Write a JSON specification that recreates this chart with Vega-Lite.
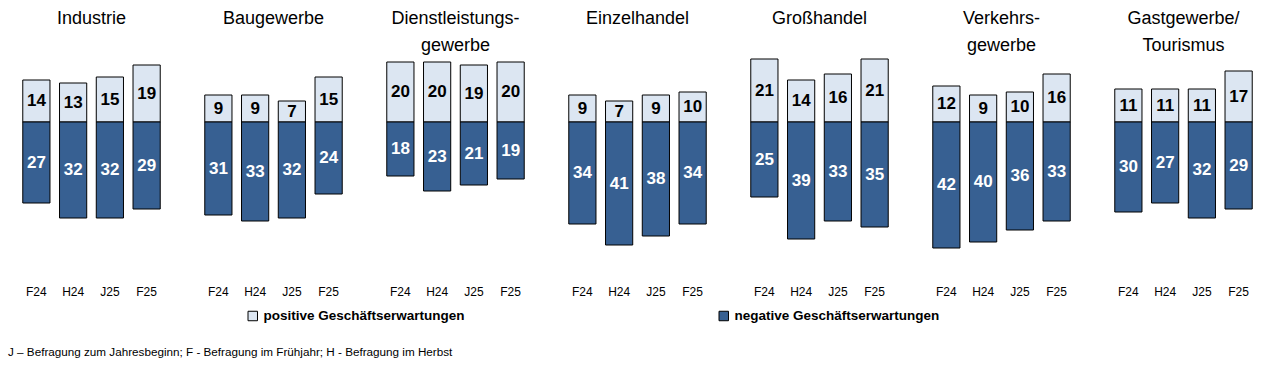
{
  "$schema": "https://vega.github.io/schema/vega-lite/v6.json",
  "padding": {"left": 8, "top": 10, "right": 5, "bottom": 5},
  "background": "white",
  "data": {"values": [
    {"sector": "Industrie| ", "period": "F24", "type": "positive Geschäftserwartungen", "value": 14},
    {"sector": "Industrie| ", "period": "F24", "type": "negative Geschäftserwartungen", "value": -27},
    {"sector": "Industrie| ", "period": "H24", "type": "positive Geschäftserwartungen", "value": 13},
    {"sector": "Industrie| ", "period": "H24", "type": "negative Geschäftserwartungen", "value": -32},
    {"sector": "Industrie| ", "period": "J25", "type": "positive Geschäftserwartungen", "value": 15},
    {"sector": "Industrie| ", "period": "J25", "type": "negative Geschäftserwartungen", "value": -32},
    {"sector": "Industrie| ", "period": "F25", "type": "positive Geschäftserwartungen", "value": 19},
    {"sector": "Industrie| ", "period": "F25", "type": "negative Geschäftserwartungen", "value": -29},
    {"sector": "Baugewerbe| ", "period": "F24", "type": "positive Geschäftserwartungen", "value": 9},
    {"sector": "Baugewerbe| ", "period": "F24", "type": "negative Geschäftserwartungen", "value": -31},
    {"sector": "Baugewerbe| ", "period": "H24", "type": "positive Geschäftserwartungen", "value": 9},
    {"sector": "Baugewerbe| ", "period": "H24", "type": "negative Geschäftserwartungen", "value": -33},
    {"sector": "Baugewerbe| ", "period": "J25", "type": "positive Geschäftserwartungen", "value": 7},
    {"sector": "Baugewerbe| ", "period": "J25", "type": "negative Geschäftserwartungen", "value": -32},
    {"sector": "Baugewerbe| ", "period": "F25", "type": "positive Geschäftserwartungen", "value": 15},
    {"sector": "Baugewerbe| ", "period": "F25", "type": "negative Geschäftserwartungen", "value": -24},
    {"sector": "Dienstleistungs-|gewerbe", "period": "F24", "type": "positive Geschäftserwartungen", "value": 20},
    {"sector": "Dienstleistungs-|gewerbe", "period": "F24", "type": "negative Geschäftserwartungen", "value": -18},
    {"sector": "Dienstleistungs-|gewerbe", "period": "H24", "type": "positive Geschäftserwartungen", "value": 20},
    {"sector": "Dienstleistungs-|gewerbe", "period": "H24", "type": "negative Geschäftserwartungen", "value": -23},
    {"sector": "Dienstleistungs-|gewerbe", "period": "J25", "type": "positive Geschäftserwartungen", "value": 19},
    {"sector": "Dienstleistungs-|gewerbe", "period": "J25", "type": "negative Geschäftserwartungen", "value": -21},
    {"sector": "Dienstleistungs-|gewerbe", "period": "F25", "type": "positive Geschäftserwartungen", "value": 20},
    {"sector": "Dienstleistungs-|gewerbe", "period": "F25", "type": "negative Geschäftserwartungen", "value": -19},
    {"sector": "Einzelhandel| ", "period": "F24", "type": "positive Geschäftserwartungen", "value": 9},
    {"sector": "Einzelhandel| ", "period": "F24", "type": "negative Geschäftserwartungen", "value": -34},
    {"sector": "Einzelhandel| ", "period": "H24", "type": "positive Geschäftserwartungen", "value": 7},
    {"sector": "Einzelhandel| ", "period": "H24", "type": "negative Geschäftserwartungen", "value": -41},
    {"sector": "Einzelhandel| ", "period": "J25", "type": "positive Geschäftserwartungen", "value": 9},
    {"sector": "Einzelhandel| ", "period": "J25", "type": "negative Geschäftserwartungen", "value": -38},
    {"sector": "Einzelhandel| ", "period": "F25", "type": "positive Geschäftserwartungen", "value": 10},
    {"sector": "Einzelhandel| ", "period": "F25", "type": "negative Geschäftserwartungen", "value": -34},
    {"sector": "Großhandel| ", "period": "F24", "type": "positive Geschäftserwartungen", "value": 21},
    {"sector": "Großhandel| ", "period": "F24", "type": "negative Geschäftserwartungen", "value": -25},
    {"sector": "Großhandel| ", "period": "H24", "type": "positive Geschäftserwartungen", "value": 14},
    {"sector": "Großhandel| ", "period": "H24", "type": "negative Geschäftserwartungen", "value": -39},
    {"sector": "Großhandel| ", "period": "J25", "type": "positive Geschäftserwartungen", "value": 16},
    {"sector": "Großhandel| ", "period": "J25", "type": "negative Geschäftserwartungen", "value": -33},
    {"sector": "Großhandel| ", "period": "F25", "type": "positive Geschäftserwartungen", "value": 21},
    {"sector": "Großhandel| ", "period": "F25", "type": "negative Geschäftserwartungen", "value": -35},
    {"sector": "Verkehrs-|gewerbe", "period": "F24", "type": "positive Geschäftserwartungen", "value": 12},
    {"sector": "Verkehrs-|gewerbe", "period": "F24", "type": "negative Geschäftserwartungen", "value": -42},
    {"sector": "Verkehrs-|gewerbe", "period": "H24", "type": "positive Geschäftserwartungen", "value": 9},
    {"sector": "Verkehrs-|gewerbe", "period": "H24", "type": "negative Geschäftserwartungen", "value": -40},
    {"sector": "Verkehrs-|gewerbe", "period": "J25", "type": "positive Geschäftserwartungen", "value": 10},
    {"sector": "Verkehrs-|gewerbe", "period": "J25", "type": "negative Geschäftserwartungen", "value": -36},
    {"sector": "Verkehrs-|gewerbe", "period": "F25", "type": "positive Geschäftserwartungen", "value": 16},
    {"sector": "Verkehrs-|gewerbe", "period": "F25", "type": "negative Geschäftserwartungen", "value": -33},
    {"sector": "Gastgewerbe/|Tourismus", "period": "F24", "type": "positive Geschäftserwartungen", "value": 11},
    {"sector": "Gastgewerbe/|Tourismus", "period": "F24", "type": "negative Geschäftserwartungen", "value": -30},
    {"sector": "Gastgewerbe/|Tourismus", "period": "H24", "type": "positive Geschäftserwartungen", "value": 11},
    {"sector": "Gastgewerbe/|Tourismus", "period": "H24", "type": "negative Geschäftserwartungen", "value": -27},
    {"sector": "Gastgewerbe/|Tourismus", "period": "J25", "type": "positive Geschäftserwartungen", "value": 11},
    {"sector": "Gastgewerbe/|Tourismus", "period": "J25", "type": "negative Geschäftserwartungen", "value": -32},
    {"sector": "Gastgewerbe/|Tourismus", "period": "F25", "type": "positive Geschäftserwartungen", "value": 17},
    {"sector": "Gastgewerbe/|Tourismus", "period": "F25", "type": "negative Geschäftserwartungen", "value": -29}
  ]},
  "title": {
    "text": "J – Befragung zum Jahresbeginn; F - Befragung im Frühjahr; H - Befragung im Herbst",
    "orient": "bottom",
    "anchor": "start",
    "frame": "group",
    "dx": -10,
    "offset": 24,
    "font": "Liberation Sans",
    "fontSize": 11.7,
    "fontWeight": "normal",
    "color": "#000000"
  },
  "facet": {
    "column": {
      "field": "sector",
      "sort": ["Industrie| ", "Baugewerbe| ", "Dienstleistungs-|gewerbe", "Einzelhandel| ", "Großhandel| ", "Verkehrs-|gewerbe", "Gastgewerbe/|Tourismus"],
      "header": {
        "title": null,
        "labelExpr": "split(datum.value, '|')",
        "labelFont": "Liberation Sans",
        "labelFontSize": 18,
        "labelLineHeight": 27,
        "labelColor": "#000000",
        "labelBaseline": "top",
        "labelPadding": -8
      }
    }
  },
  "spacing": 35,
  "spec": {
    "width": 147,
    "height": 234,
    "encoding": {
      "x": {
        "field": "period",
        "type": "nominal",
        "sort": ["F24", "H24", "J25", "F25"],
        "scale": {"paddingInner": 0.26, "paddingOuter": 0.13},
        "axis": {
          "title": null,
          "labelAngle": 0,
          "ticks": false,
          "domain": false,
          "labelPadding": 5,
          "labelFont": "Liberation Sans",
          "labelFontSize": 12,
          "labelColor": "#000000"
        }
      }
    },
    "layer": [
      {
        "mark": {"type": "bar", "stroke": "#000000", "strokeWidth": 1},
        "encoding": {
          "y": {"field": "value", "type": "quantitative", "stack": null, "scale": {"domain": [-53, 25], "nice": false}, "axis": null},
          "fill": {
            "field": "type",
            "type": "nominal",
            "scale": {"domain": ["positive Geschäftserwartungen", "negative Geschäftserwartungen"], "range": ["#DCE6F2", "#376092"]},
            "legend": {
              "title": null,
              "orient": "none",
              "legendX": 228,
              "legendY": 262,
              "direction": "horizontal",
              "columns": 2,
              "columnPadding": 252,
              "symbolType": "square",
              "symbolSize": 90,
              "symbolStrokeColor": "#000000",
              "symbolStrokeWidth": 1,
              "labelFont": "Liberation Sans",
              "labelFontSize": 13.5,
              "labelFontWeight": "bold",
              "labelColor": "#000000",
              "labelLimit": 400
            }
          }
        }
      },
      {
        "transform": [
          {"calculate": "datum.value / 2", "as": "mid"},
          {"calculate": "abs(datum.value)", "as": "n"}
        ],
        "mark": {"type": "text", "font": "Liberation Sans", "fontSize": 17, "fontWeight": "bold", "baseline": "middle"},
        "encoding": {
          "y": {"field": "mid", "type": "quantitative"},
          "text": {"field": "n", "type": "quantitative"},
          "color": {"condition": {"test": "datum.value < 0", "value": "#FFFFFF"}, "value": "#000000"}
        }
      }
    ]
  },
  "config": {
    "view": {"stroke": null}
  }
}
